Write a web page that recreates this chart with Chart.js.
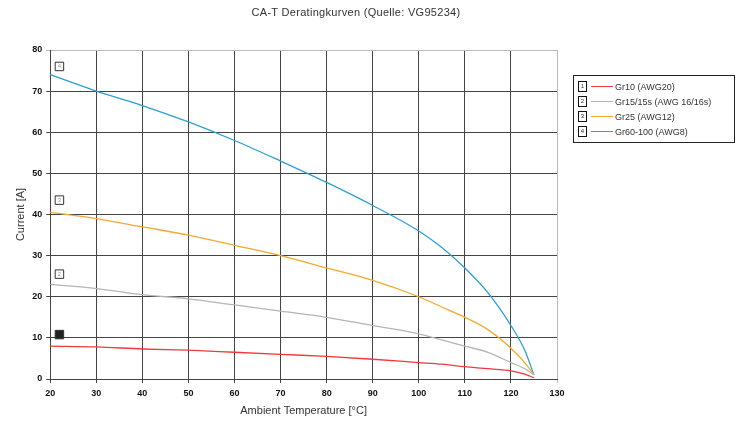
<!DOCTYPE html>
<html>
<head>
<meta charset="utf-8">
<script src="https://cdn.jsdelivr.net/npm/chart.js@4"></script>
<style>
  body { margin: 0; background: #fff; }
  #wrap { position: relative; width: 740px; height: 423px; }
  #title {
    position: absolute; left: 0; width: 712px; top: 6px; text-align: center;
    font-family: Arial, "Liberation Sans", sans-serif; font-size: 11px; color: #333; letter-spacing: 0.3px;
  }
  #legend {
    position: absolute; left: 573px; top: 75px; width: 162px; height: 68px;
    border: 1px solid #222; font-family: Arial, "Liberation Sans", sans-serif;
    font-size: 9px; color: #333; box-sizing: border-box; padding-top: 3px;
  }
  .row { display: flex; align-items: center; height: 15px; }
  .num { width: 7px; height: 9px; border: 1px solid #111; margin-left: 4px; font-size: 6px; line-height: 9px; text-align: center; }
  .ln { width: 22px; height: 0; border-top: 1px solid; margin: 0 2px 0 4px; }
</style>
</head>
<body>
<div id="wrap">
  <canvas id="chart" width="740" height="423"></canvas>
  <div id="title">CA-T Deratingkurven (Quelle: VG95234)</div>
  <div id="legend"></div>
</div>
<script>
// reading from the plot, current in A vs ambient temp
const temps = [20, 30, 40, 50, 60, 70, 80, 90, 100, 105, 110, 115, 120, 123, 125];
const gr10 = [8, 7.8, 7.3, 7, 6.5, 6, 5.5, 4.8, 4, 3.6, 3, 2.5, 2, 1.2, 0.3];
const gr15 = [23, 22, 20.5, 19.5, 18, 16.5, 15, 13, 11, 9.5, 8, 6.5, 4, 2.5, 1];
const gr25 = [40.5, 39, 37, 35, 32.5, 30, 27, 24, 20, 17.5, 15, 12, 7.5, 4, 1];
const gr60 = [74, 70, 66.5, 62.5, 58, 53, 47.8, 42.2, 36, 32, 27, 21, 13, 7, 1];

const seriesNames = ['Gr10 (AWG20)', 'Gr15/15s (AWG 16/16s)', 'Gr25 (AWG12)', 'Gr60-100 (AWG8)'];
const seriesColors = ['#f0393d', '#b5b5b5', '#f6a82c', '#2a9fd6'];

// little numbered boxes next to each curve
const markerNums = ['1', '2', '3', '4'];
const markerX = [22, 22, 22, 22];
const markerY = [10.8, 25.5, 43.5, 76];

const xTicks = [20, 30, 40, 50, 60, 70, 80, 90, 100, 110, 120, 130];

const allSeries = [gr10, gr15, gr25, gr60];

const datasets = allSeries.map((vals, i) => ({
    label: seriesNames[i],
    data: temps.map((t, j) => ({ x: t, y: vals[j] })),
    borderColor: seriesColors[i],
    borderWidth: 1.3,
    pointRadius: 0,
    fill: false,
    cubicInterpolationMode: 'monotone'
}));

datasets.push({
    label: 'markers',
    type: 'scatter',
    data: markerX.map((x, j) => ({ x: x, y: markerY[j] })),
    pointStyle: 'rect',
    pointRadius: 6,
    borderWidth: 1,
    borderColor: '#333',
    backgroundColor: markerNums.map((n, j) => j === 0 ? '#222' : '#fff')
});

const markerText = {
    id: 'markerText',
    afterDatasetsDraw(chart) {
        const meta = chart.getDatasetMeta(4);
        const ctx = chart.ctx;
        ctx.save();
        ctx.font = '6px Arial';
        ctx.fillStyle = '#999';
        ctx.textAlign = 'center';
        ctx.textBaseline = 'middle';
        meta.data.forEach((pt, j) => {
            if (j === 0) return;
            ctx.fillText(markerNums[j], pt.x, pt.y);
        });
        ctx.restore();
    }
};

const tickFont = { family: 'Arial, "Liberation Sans"', size: 9, weight: 'bold' };
// outer top/right lines are lighter than the inner grid
const gridCol = (ctx, last) => ctx.tick && ctx.tick.value === last ? '#bbb' : '#444';

new Chart(document.getElementById('chart'), {
    type: 'line',
    data: { datasets: datasets },
    plugins: [markerText],
    options: {
        responsive: false,
        animation: false,
        layout: { padding: { left: 14, right: 183, top: 50, bottom: 5 } },
        plugins: {
            legend: { display: false },
            tooltip: { enabled: false }
        },
        scales: {
            x: {
                type: 'linear', min: 20, max: 130,
                afterBuildTicks: s => { s.ticks = xTicks.map(v => ({ value: v })); },
                grid: { color: c => gridCol(c, 130), lineWidth: 1, tickLength: 4 },
                border: { color: '#444' },
                ticks: { color: '#111', font: tickFont, padding: 5, maxRotation: 0 },
                title: { display: true, text: 'Ambient Temperature [°C]', color: '#333',
                    font: { family: 'Arial, "Liberation Sans"', size: 11 }, padding: { top: 1, bottom: 0 } }
            },
            y: {
                min: 0, max: 80,
                ticks: { stepSize: 10, color: '#111', font: tickFont, padding: 4 },
                grid: { color: c => gridCol(c, 80), lineWidth: 1, tickLength: 4 },
                border: { color: '#444' },
                title: { display: true, text: 'Current [A]', color: '#333',
                    font: { family: 'Arial, "Liberation Sans"', size: 11 }, padding: { top: 0, bottom: 1 } }
            }
        }
    }
});

// legend built from the same arrays
const leg = document.getElementById('legend');
seriesNames.forEach((name, i) => {
    const row = document.createElement('div');
    row.className = 'row';
    row.innerHTML = '<div class="num">' + markerNums[i] + '</div><div class="ln" style="border-color:' +
        seriesColors[i] + '"></div><span>' + name + '</span>';
    leg.appendChild(row);
});
</script>
</body>
</html>
